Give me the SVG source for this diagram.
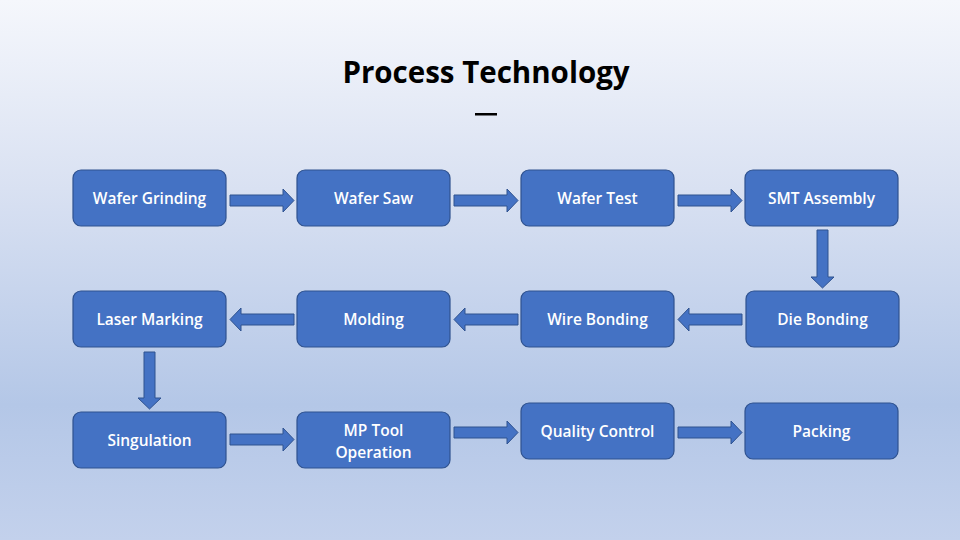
<svg xmlns="http://www.w3.org/2000/svg" width="960" height="540" viewBox="0 0 960 540">
<defs>
<linearGradient id="bg" x1="0" y1="0" x2="0" y2="1">
<stop offset="0" stop-color="#F5F7FC"/>
<stop offset="0.35" stop-color="#D9E1F2"/>
<stop offset="0.75" stop-color="#B4C7E7"/>
<stop offset="1" stop-color="#C3D1EC"/>
</linearGradient>
<style>
.box{fill:#4472C4;stroke:#2F528F;stroke-width:1.2}
.lbl{fill:#FFFFFF;font-family:"Open Sans","Liberation Sans",sans-serif;font-weight:600;font-size:15.5px;text-anchor:middle;dominant-baseline:central}
.arr{fill:#4472C4;stroke:#2F528F;stroke-width:1}
.title{fill:#000;font-family:"Open Sans","Liberation Sans",sans-serif;font-weight:700;font-size:29.5px;text-anchor:middle}
</style>
</defs>
<rect x="0" y="0" width="960" height="540" fill="url(#bg)"/>
<text class="title" x="486" y="83">Process Technology</text>
<rect x="475" y="113" width="22" height="2.5" fill="#000"/>

<g id="n1"><rect class="box" x="73" y="170" width="153" height="56" rx="8"/><text class="lbl" x="149.5" y="198">Wafer Grinding</text></g>
<g id="n2"><rect class="box" x="297" y="170" width="153" height="56" rx="8"/><text class="lbl" x="373.5" y="198">Wafer Saw</text></g>
<g id="n3"><rect class="box" x="521" y="170" width="153" height="56" rx="8"/><text class="lbl" x="597.5" y="198">Wafer Test</text></g>
<g id="n4"><rect class="box" x="745" y="170" width="153" height="56" rx="8"/><text class="lbl" x="821.5" y="198">SMT Assembly</text></g>

<g id="n5"><rect class="box" x="746" y="291" width="153" height="56" rx="8"/><text class="lbl" x="822.5" y="319">Die Bonding</text></g>
<g id="n6"><rect class="box" x="521" y="291" width="153" height="56" rx="8"/><text class="lbl" x="597.5" y="319">Wire Bonding</text></g>
<g id="n7"><rect class="box" x="297" y="291" width="153" height="56" rx="8"/><text class="lbl" x="373.5" y="319">Molding</text></g>
<g id="n8"><rect class="box" x="73" y="291" width="153" height="56" rx="8"/><text class="lbl" x="149.5" y="319">Laser Marking</text></g>

<g id="n9"><rect class="box" x="73" y="412" width="153" height="56" rx="8"/><text class="lbl" x="149.5" y="440">Singulation</text></g>
<g id="n10"><rect class="box" x="297" y="412" width="153" height="56" rx="8"/><text class="lbl" x="373.5" y="430">MP Tool</text><text class="lbl" x="373.5" y="452">Operation</text></g>
<g id="n11"><rect class="box" x="521" y="403" width="153" height="56" rx="8"/><text class="lbl" x="597.5" y="431">Quality Control</text></g>
<g id="n12"><rect class="box" x="745" y="403" width="153" height="56" rx="8"/><text class="lbl" x="821.5" y="431">Packing</text></g>

<g id="connectors">
<polygon class="arr" points="230,195 283,195 283,189 294,200.5 283,212 283,206 230,206"/>
<polygon class="arr" points="454,195 507,195 507,189 518,200.5 507,212 507,206 454,206"/>
<polygon class="arr" points="678,195 731,195 731,189 742,200.5 731,212 731,206 678,206"/>
<polygon class="arr" points="817,230 828,230 828,277 834,277 822.5,288 811,277 817,277"/>
<polygon class="arr" points="742,314 689,314 689,308 678,319.5 689,331 689,325 742,325"/>
<polygon class="arr" points="518,314 465,314 465,308 454,319.5 465,331 465,325 518,325"/>
<polygon class="arr" points="294,314 241,314 241,308 230,319.5 241,331 241,325 294,325"/>
<polygon class="arr" points="144,352 155,352 155,398 161,398 149.5,409 138,398 144,398"/>
<polygon class="arr" points="230,434 283,434 283,428 294,439.5 283,451 283,445 230,445"/>
<polygon class="arr" points="454,427 507,427 507,421 518,432.5 507,444 507,438 454,438"/>
<polygon class="arr" points="678,427 731,427 731,421 742,432.5 731,444 731,438 678,438"/>
</g>
</svg>
